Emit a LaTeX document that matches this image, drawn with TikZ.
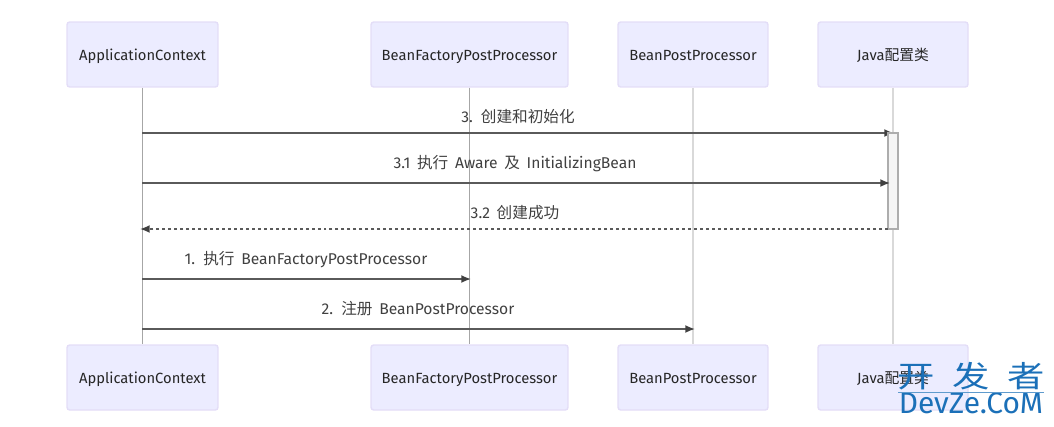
\documentclass[tikz,border=0pt]{standalone}
\usepackage{fontspec}
\setmainfont{Fira Sans}
\newfontfamily\cjk{Noto Sans CJK SC}
\usetikzlibrary{arrows.meta}
\definecolor{boxfill}{HTML}{ECECFF}
\definecolor{boxline}{HTML}{E3DDF7}
\definecolor{msgline}{HTML}{5A5A5A}
\definecolor{markblue}{HTML}{1B70B8}
\tikzset{
    actor/.style={draw=boxline, fill=boxfill, thick, rounded corners=1.5pt, minimum height=1.3cm, font=\fontsize{8.4}{10}\selectfont, text=black!85, text height=8.7pt, text depth=2pt},
    msg/.style={draw=msgline, line width=0.9pt, -{Latex[length=5.5pt,width=4.5pt,color=black!75]}},
    msglabel/.style={font=\fontsize{8.9}{10}\selectfont, execute at begin node={\spaceskip=0.43em\relax}, text=black!75, inner sep=0pt, text height=8.7pt, text depth=2pt},
}
\begin{document}
\begin{tikzpicture}[x=0.02cm, y=-0.02cm]
    \useasboundingbox (0,0) rectangle (1054,426);

    % Actors, top and bottom row
    \foreach \name/\x/\w/\label in {ctx/142.5/3.02cm/ApplicationContext, bfpp/469.5/3.94cm/BeanFactoryPostProcessor, bpp/693/3cm/BeanPostProcessor, java/893/3cm/{Java{\cjk 配置类}}} {
        \node[actor, minimum width=\w] (\name top) at (\x,54.5) {\label};
        \node[actor, minimum width=\w] (\name bot) at (\x,377.5) {\label};
    }

    % Lifelines
    \foreach \name/\shade/\wd in {ctx/35/0.6pt, bfpp/35/0.6pt, bpp/15/1.1pt, java/15/1.1pt} {
        \draw[black!\shade, line width=\wd] (\name top) -- (\name bot);
    }

    % Free ends of the messages
    \coordinate (a1) at (142,133);
    \coordinate (b1) at (894,133);
    \coordinate (a2) at (142,183);
    \coordinate (b2) at (890,183);
    \coordinate (a3) at (888,229);
    \coordinate (b3) at (140,229);
    \coordinate (a4) at (142,279);
    \coordinate (b4) at (471,279);
    \coordinate (a5) at (142,329);
    \coordinate (b5) at (695,329);

    % Messages
    \draw[msg] (a1) -- (b1);
    \node[draw=black!32, fill=black!4, line width=0.9pt, minimum width=0.2cm, minimum height=1.92cm, inner sep=0pt] (active) at (893,181) {};
    \draw[msg] (a2) -- (b2);
    \draw[msg, dash pattern=on 1.7pt off 1.7pt] (a3) -- (b3);
    \draw[msg] (a4) -- (b4);
    \draw[msg] (a5) -- (b5);

    % Message labels
    \node[msglabel] (m1) at (518,117) {3. {\cjk 创建和初始化}};
    \node[msglabel] (m2) at (515,163) {3.1 {\cjk 执行} Aware {\cjk 及} InitializingBean};
    \node[msglabel] (m3) at (515,213) {3.2 {\cjk 创建成功}};
    \node[msglabel] (m4) at (306,259) {1. {\cjk 执行} BeanFactoryPostProcessor};
    \node[msglabel] (m5) at (418,309) {2. {\cjk 注册} BeanPostProcessor};

    % Watermark
    \node[markblue, font=\cjk\fontsize{17}{20}\selectfont, inner sep=0pt, xscale=1.25] (markcn) at (971,376) {开\hspace{0.47em}发\hspace{0.47em}者};
    \node[markblue, font=\fontsize{17}{20}\selectfont, inner sep=0pt] (markuri) at (971,403) {DevZe.CoM};
    \draw[markblue!70, line width=0.5pt] (markuri.north west) -- (markuri.north east);
\end{tikzpicture}
\end{document}
